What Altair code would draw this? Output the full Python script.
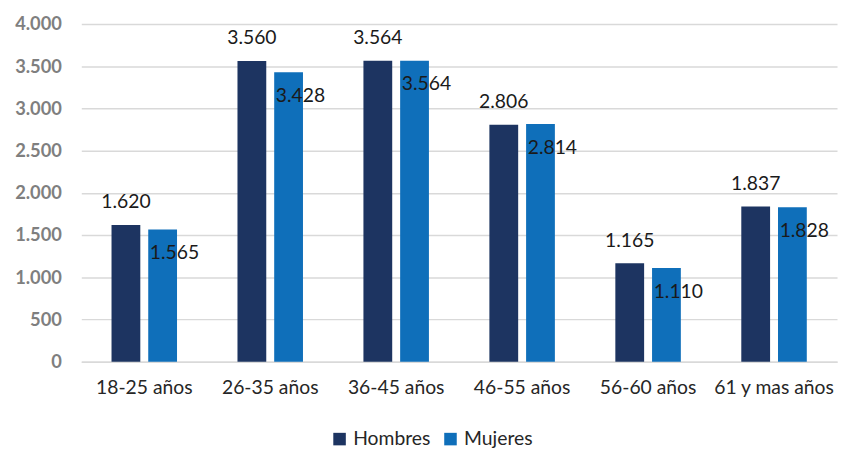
import altair as alt
import pandas as pd

categories = ["18-25 años", "26-35 años", "36-45 años", "46-55 años", "56-60 años", "61 y mas años"]
hombres = [1620, 3560, 3564, 2806, 1165, 1837]
mujeres = [1565, 3428, 3564, 2814, 1110, 1828]
series = ["Hombres", "Mujeres"]
colors = ["#1d3461", "#0f6fba"]

rows = []
for c, h, m in zip(categories, hombres, mujeres):
    rows.append({"cat": c, "serie": "Hombres", "valor": h})
    rows.append({"cat": c, "serie": "Mujeres", "valor": m})
df = pd.DataFrame(rows)

FONT = "Lato"

x = alt.X("cat:N", sort=categories, title=None,
          scale=alt.Scale(paddingInner=0.48, paddingOuter=0.24),
          axis=alt.Axis(labelAngle=0, labelFontSize=19.5, labelColor="#262626", labelFont=FONT,
                        ticks=False, domain=True, domainColor="#d9d9d9", domainWidth=1.5,
                        labelPadding=17, grid=False))
xoff = alt.XOffset("serie:N", sort=series,
                   scale=alt.Scale(paddingInner=0.216, paddingOuter=0))
y = alt.Y("valor:Q", title=None,
          scale=alt.Scale(domain=[0, 4000], nice=False),
          axis=alt.Axis(values=list(range(0, 4001, 500)), labelFontSize=18.5, labelFont=FONT,
                        labelFontWeight="bold", labelColor="#7f7f7f", ticks=False, domain=False,
                        labelPadding=20, gridColor="#d9d9d9", gridWidth=1.5,
                        labelExpr="replace(format(datum.value, ',d'), ',', '.')"))

base = alt.Chart(df)

bars = base.mark_bar().encode(
    x=x, xOffset=xoff, y=y,
    color=alt.Color("serie:N", sort=series, title=None,
                    scale=alt.Scale(domain=series, range=colors),
                    legend=alt.Legend(orient="none", legendX=251, legendY=409, direction="horizontal",
                                      symbolType="square", symbolSize=160, symbolStrokeWidth=0,
                                      labelFontSize=19.5, labelFont=FONT, labelColor="#262626",
                                      columnPadding=10, symbolOffset=0, labelOffset=4)),
)

lab_h = base.transform_filter(alt.datum.serie == "Hombres").mark_text(
    fontSize=19.5, font=FONT, color="#1a1a1a", dy=-23, baseline="middle"
).encode(
    x=x, xOffset=xoff, y=y,
    text=alt.Text("lbl:N"),
).transform_calculate(lbl="replace(format(datum.valor, ',d'), ',', '.')")

lab_m = base.transform_filter(alt.datum.serie == "Mujeres").mark_text(
    fontSize=19.5, font=FONT, color="#1a1a1a", dy=24, dx=12, baseline="middle"
).encode(
    x=x, xOffset=xoff, y=y,
    text=alt.Text("lbl:N"),
).transform_calculate(lbl="replace(format(datum.valor, ',d'), ',', '.')")

chart = alt.layer(bars, lab_h, lab_m).properties(
    width=763, height=341,
    autosize=alt.AutoSizeParams(type="none"),
    padding={"left": 74, "top": 14, "right": 2, "bottom": 85},
    background="white",
).configure_view(stroke=None)

chart.save("out.html", embed_options={"renderer": "svg", "actions": False})
